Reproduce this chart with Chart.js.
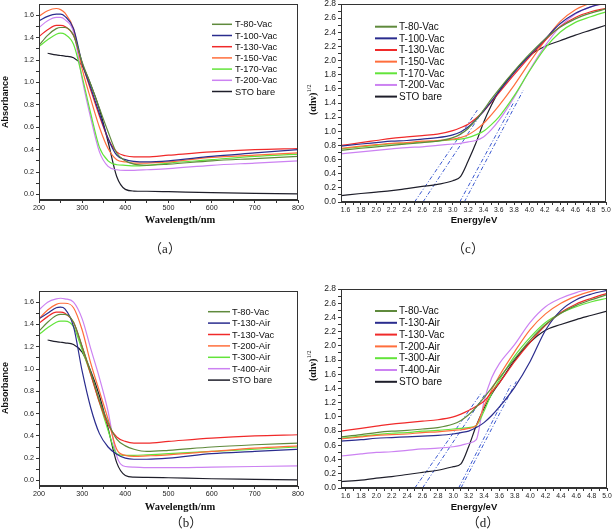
<!DOCTYPE html>
<html>
<head>
<meta charset="utf-8">
<script src="https://cdn.jsdelivr.net/npm/chart.js@4.4.1/dist/chart.umd.min.js"></script>
<style>
  body { margin: 0; background: #fff; width: 614px; height: 531px; position: relative; overflow: hidden; }
  .box { position: absolute; }
  .cap { position: absolute; font-family: "Liberation Serif", "Noto Sans CJK SC"; font-size: 13px; color: #222;
         transform: translate(-50%, -50%); white-space: nowrap; }
</style>
</head>
<body>
<div class="box" id="boxA"><canvas id="chartA"></canvas></div>
<div class="box" id="boxC"><canvas id="chartC"></canvas></div>
<div class="box" id="boxB"><canvas id="chartB"></canvas></div>
<div class="box" id="boxD"><canvas id="chartD"></canvas></div>
<div class="cap" style="left:165px;top:247px">（a）</div>
<div class="cap" style="left:468px;top:247px">（c）</div>
<div class="cap" style="left:186px;top:521px">（b）</div>
<div class="cap" style="left:483px;top:521px">（d）</div>
<script>
// ---- data: absorbance spectra (wavelength, nm) ----
const wl = [200, 220, 240, 250, 260, 280, 300, 320, 340, 360, 380, 400, 420, 450, 500, 600, 700, 800];
const stoAbs = [null, 1.26, 1.245, 1.24, 1.235, 1.22, 1.15, 0.98, 0.76, 0.47, 0.16, 0.045, 0.03, 0.028, 0.024, 0.015, 0.01, 0.005];

// panel (a)
const aT80  = [1.33, 1.42, 1.48, 1.49, 1.49, 1.42, 1.18, 0.98, 0.77, 0.56, 0.37, 0.30, 0.27, 0.26, 0.27, 0.30, 0.32, 0.34];
const aT100 = [1.55, 1.59, 1.61, 1.61, 1.59, 1.48, 1.17, 0.95, 0.72, 0.50, 0.35, 0.31, 0.295, 0.29, 0.30, 0.34, 0.37, 0.40];
const aT130 = [1.41, 1.47, 1.51, 1.51, 1.50, 1.42, 1.17, 0.93, 0.70, 0.50, 0.38, 0.345, 0.335, 0.335, 0.35, 0.38, 0.40, 0.41];
const aT150 = [1.59, 1.64, 1.66, 1.65, 1.62, 1.48, 1.12, 0.85, 0.60, 0.41, 0.31, 0.29, 0.28, 0.28, 0.29, 0.33, 0.35, 0.37];
const aT170 = [1.32, 1.38, 1.43, 1.44, 1.43, 1.34, 1.05, 0.72, 0.42, 0.30, 0.265, 0.26, 0.255, 0.26, 0.28, 0.31, 0.34, 0.36];
const aT200 = [1.49, 1.55, 1.58, 1.58, 1.56, 1.45, 1.03, 0.68, 0.38, 0.25, 0.22, 0.215, 0.215, 0.22, 0.23, 0.26, 0.28, 0.30];

// panel (b)
const bV80  = [1.34, 1.42, 1.48, 1.49, 1.49, 1.42, 1.20, 0.97, 0.72, 0.52, 0.37, 0.31, 0.28, 0.26, 0.27, 0.30, 0.32, 0.335];
const bA130 = [1.45, 1.50, 1.55, 1.555, 1.54, 1.38, 0.98, 0.65, 0.42, 0.30, 0.235, 0.20, 0.19, 0.19, 0.20, 0.24, 0.26, 0.28];
const bV130 = [1.41, 1.47, 1.51, 1.51, 1.50, 1.42, 1.20, 0.95, 0.70, 0.50, 0.39, 0.35, 0.335, 0.335, 0.35, 0.38, 0.40, 0.41];
const bA200 = [1.45, 1.53, 1.58, 1.59, 1.59, 1.55, 1.35, 1.05, 0.80, 0.55, 0.28, 0.225, 0.215, 0.22, 0.23, 0.26, 0.29, 0.31];
const bA300 = [1.31, 1.37, 1.42, 1.43, 1.43, 1.38, 1.17, 0.95, 0.70, 0.45, 0.24, 0.225, 0.225, 0.23, 0.24, 0.26, 0.28, 0.30];
const bA400 = [1.53, 1.60, 1.63, 1.635, 1.63, 1.60, 1.45, 1.18, 0.92, 0.62, 0.22, 0.125, 0.12, 0.115, 0.115, 0.12, 0.125, 0.13];

// ---- data: Tauc plots (energy, eV) ----
const ev = [1.54, 1.8, 2.0, 2.2, 2.4, 2.6, 2.8, 3.0, 3.1, 3.2, 3.3, 3.4, 3.5, 3.6, 3.8, 4.0, 4.2, 4.4, 4.6, 4.8, 5.0];

// panel (c)
const cT80  = [0.73, 0.76, 0.78, 0.80, 0.82, 0.84, 0.86, 0.91, 0.96, 1.04, 1.16, 1.30, 1.45, 1.59, 1.85, 2.09, 2.30, 2.47, 2.59, 2.67, 2.73];
const cT100 = [0.79, 0.82, 0.84, 0.86, 0.87, 0.89, 0.91, 0.95, 0.99, 1.06, 1.16, 1.28, 1.42, 1.56, 1.83, 2.07, 2.30, 2.52, 2.67, 2.76, 2.82];
const cT130 = [0.80, 0.84, 0.87, 0.90, 0.92, 0.94, 0.96, 1.01, 1.05, 1.10, 1.18, 1.28, 1.41, 1.54, 1.80, 2.05, 2.28, 2.48, 2.61, 2.69, 2.74];
const cT150 = [0.76, 0.79, 0.81, 0.83, 0.84, 0.86, 0.87, 0.89, 0.91, 0.95, 1.02, 1.11, 1.23, 1.36, 1.65, 1.97, 2.28, 2.55, 2.72, 2.81, 2.86];
const cT170 = [0.75, 0.78, 0.80, 0.82, 0.83, 0.85, 0.86, 0.88, 0.89, 0.91, 0.95, 1.00, 1.09, 1.20, 1.50, 1.85, 2.17, 2.40, 2.54, 2.62, 2.69];
const cT200 = [0.68, 0.71, 0.73, 0.75, 0.77, 0.78, 0.80, 0.82, 0.83, 0.85, 0.87, 0.92, 1.02, 1.15, 1.48, 1.86, 2.20, 2.48, 2.66, 2.76, 2.81];
const cSTO  = [0.09, 0.12, 0.14, 0.16, 0.19, 0.22, 0.25, 0.30, 0.36, 0.58, 0.83, 1.12, 1.36, 1.56, 1.84, 2.07, 2.20, 2.28, 2.36, 2.43, 2.50];
// tangent lines [x0, y0, x1, y1]
const cFits = [[2.50, 0, 3.32, 1.30], [2.61, 0, 3.40, 1.30], [3.09, 0, 3.80, 1.42], [3.15, 0, 3.92, 1.58]];

// panel (d)
const dV80  = [0.72, 0.75, 0.78, 0.80, 0.81, 0.83, 0.85, 0.90, 0.95, 1.03, 1.14, 1.27, 1.41, 1.55, 1.82, 2.08, 2.30, 2.46, 2.57, 2.65, 2.72];
const dA130 = [0.66, 0.68, 0.70, 0.71, 0.72, 0.73, 0.74, 0.76, 0.78, 0.80, 0.85, 0.92, 1.02, 1.14, 1.42, 1.78, 2.22, 2.50, 2.65, 2.73, 2.78];
const dV130 = [0.80, 0.84, 0.87, 0.90, 0.92, 0.94, 0.96, 1.00, 1.04, 1.09, 1.15, 1.22, 1.35, 1.48, 1.78, 2.05, 2.29, 2.47, 2.59, 2.67, 2.74];
const dA200 = [0.69, 0.72, 0.74, 0.75, 0.76, 0.78, 0.79, 0.81, 0.82, 0.84, 0.88, 1.15, 1.38, 1.58, 1.92, 2.23, 2.45, 2.60, 2.70, 2.77, 2.82];
const dA300 = [0.70, 0.73, 0.75, 0.77, 0.78, 0.80, 0.81, 0.83, 0.84, 0.85, 0.88, 1.08, 1.33, 1.52, 1.86, 2.12, 2.33, 2.46, 2.55, 2.62, 2.67];
const dA400 = [0.45, 0.48, 0.50, 0.51, 0.53, 0.55, 0.56, 0.58, 0.60, 0.63, 0.68, 1.22, 1.55, 1.75, 2.02, 2.33, 2.55, 2.67, 2.75, 2.80, 2.84];
const dSTO  = [0.09, 0.11, 0.14, 0.16, 0.19, 0.22, 0.25, 0.30, 0.34, 0.58, 0.88, 1.12, 1.32, 1.48, 1.80, 2.05, 2.22, 2.30, 2.37, 2.43, 2.49];
const dFits = [[2.50, 0, 3.36, 1.33], [2.60, 0, 3.42, 1.33], [3.07, 0, 3.75, 1.45], [3.10, 0, 3.82, 1.50]];

// tick labels
const wlTicks = [200, 300, 400, 500, 600, 700, 800];
const absTicks = [0.0, 0.2, 0.4, 0.6, 0.8, 1.0, 1.2, 1.4, 1.6];
const evTicks = [1.6, 1.8, 2.0, 2.2, 2.4, 2.6, 2.8, 3.0, 3.2, 3.4, 3.6, 3.8, 4.0, 4.2, 4.4, 4.6, 4.8, 5.0];
const taucTicks = [0.0, 0.2, 0.4, 0.6, 0.8, 1.0, 1.2, 1.4, 1.6, 1.8, 2.0, 2.2, 2.4, 2.6, 2.8];

const OLIVE = '#5f8a3c', NAVY = '#2a2c8e', RED = '#f02a2a', ORANGE = '#ff6e3c',
      GREEN = '#62e43a', VIOLET = '#cc82f2', BLACK = '#1e1e2a', FIT = '#3a58d0';

function series(label, xs, ys, color) {
  return {
    label: label,
    data: xs.map((x, i) => ({ x: x, y: ys[i] })),
    borderColor: color, borderWidth: 1.2, pointRadius: 0, fill: false,
    cubicInterpolationMode: 'monotone'
  };
}
function fits(list) {
  return list.map(f => ({
    label: '',
    data: [{ x: f[0], y: f[1] }, { x: f[2], y: f[3] }],
    borderColor: FIT, borderWidth: 1, borderDash: [4, 2, 1, 2], pointRadius: 0, fill: false
  }));
}
function withMinor(majors) {
  const out = [];
  majors.forEach((v, i) => {
    out.push(v);
    if (i < majors.length - 1) out.push((v + majors[i + 1]) / 2);
  });
  return out;
}

const framePlugin = {
  id: 'frame',
  afterDraw(chart, args, o) {
    const ctx = chart.ctx, ca = chart.chartArea;
    ctx.save();
    ctx.strokeStyle = '#333';
    ctx.lineWidth = 1;
    ctx.strokeRect(Math.round(ca.left) + 0.5, Math.round(ca.top) + 0.5,
                   Math.round(ca.right - ca.left) - 1, Math.round(ca.bottom - ca.top) - 1);
    // legend
    const L = o.legend;
    let row = 0;
    ctx.font = L.font;
    ctx.textBaseline = 'middle';
    ctx.textAlign = 'left';
    chart.data.datasets.forEach(d => {
      if (!d.label) return;
      const y = L.y + row * L.dy - o.oy;
      ctx.strokeStyle = d.borderColor;
      ctx.lineWidth = L.lw;
      ctx.beginPath();
      ctx.moveTo(L.x1 - o.ox, y);
      ctx.lineTo(L.x2 - o.ox, y);
      ctx.stroke();
      ctx.fillStyle = '#111';
      ctx.fillText(d.label, L.tx - o.ox, y + 0.5);
      row++;
    });
    // axis titles
    o.texts.forEach(t => {
      ctx.save();
      ctx.translate(t.x - o.ox, t.y - o.oy);
      if (t.rot) ctx.rotate(t.rot);
      ctx.fillStyle = '#111';
      ctx.textBaseline = 'middle';
      ctx.font = t.font;
      const w1 = ctx.measureText(t.text).width;
      let w2 = 0;
      if (t.sup) { ctx.font = t.supFont; w2 = ctx.measureText(t.sup).width; }
      ctx.font = t.font;
      ctx.textAlign = 'left';
      ctx.fillText(t.text, -(w1 + w2) / 2, 0);
      if (t.sup) {
        ctx.font = t.supFont;
        ctx.fillText(t.sup, -(w1 + w2) / 2 + w1 + 0.5, -4);
      }
      ctx.restore();
    });
    ctx.restore();
  }
};

function panel(id, boxId, p) {
  const box = document.getElementById(boxId);
  box.style.left = p.box.x + 'px';
  box.style.top = p.box.y + 'px';
  box.style.width = p.box.w + 'px';
  box.style.height = p.box.h + 'px';
  const axisStyle = {
    grid: { display: true, drawOnChartArea: false, drawTicks: true, tickLength: 3, color: '#333' },
    border: { display: true, color: '#333' }
  };
  const xT = withMinor(p.xMajor), yT = withMinor(p.yMajor);
  const isMajor = (arr, v) => arr.some(m => Math.abs(m - v) < 1e-6);
  return new Chart(document.getElementById(id), {
    type: 'line',
    data: { datasets: p.datasets },
    options: {
      responsive: true, maintainAspectRatio: false, animation: false,
      layout: { padding: { top: p.area.t - p.box.y, right: p.box.x + p.box.w - p.area.r, left: 0, bottom: 0 } },
      plugins: {
        legend: { display: false },
        tooltip: { enabled: false },
        frame: { legend: p.legend, texts: p.texts, ox: p.box.x, oy: p.box.y }
      },
      scales: {
        x: Object.assign({
          type: 'linear', min: p.xMin, max: p.xMax,
          afterFit: s => { s.height = p.box.y + p.box.h - p.area.b; },
          afterBuildTicks: s => { s.ticks = xT.map(v => ({ value: v })); },
          ticks: {
            autoSkip: false, maxRotation: 0, padding: 1, color: '#222',
            font: { family: 'Liberation Sans', size: p.xFont },
            callback: v => isMajor(p.xMajor, v) ? p.xFmt(v) : ''
          }
        }, axisStyle),
        y: Object.assign({
          type: 'linear', min: p.yMin, max: p.yMax,
          afterFit: s => { s.width = p.area.l - p.box.x; },
          afterBuildTicks: s => { s.ticks = yT.map(v => ({ value: v })); },
          ticks: {
            autoSkip: false, padding: 2, color: '#222',
            font: { family: 'Liberation Sans', size: p.yFont },
            callback: v => isMajor(p.yMajor, v) ? v.toFixed(1) : ''
          }
        }, axisStyle)
      }
    },
    plugins: [framePlugin]
  });
}

const absTitle = y => ({ text: 'Absorbance', x: 6, y: y, rot: -Math.PI / 2, font: 'bold 9px "Liberation Sans"' });
const wlTitle = y => ({ text: 'Wavelength/nm', x: 180, y: y, font: 'bold 10.5px "Liberation Serif"' });
const taucTitle = y => ({ text: '(\u03b1h\u03bd)', sup: '1/2', x: 313, y: y, rot: -Math.PI / 2,
                          font: 'bold 10px "Liberation Serif"', supFont: '6px "Liberation Serif"' });
const evTitle = y => ({ text: 'Energy/eV', x: 474, y: y, font: 'bold 9.5px "Liberation Sans"' });

// (a)
panel('chartA', 'boxA', {
  box: { x: 0, y: -10, w: 307, h: 250 }, area: { l: 39, t: 4, r: 298, b: 200 },
  xMin: 200, xMax: 800, yMin: -0.05, yMax: 1.7, xMajor: wlTicks, yMajor: absTicks,
  xFmt: v => String(v), xFont: 7.2, yFont: 7.2,
  datasets: [
    series('T-80-Vac', wl, aT80, OLIVE), series('T-100-Vac', wl, aT100, NAVY),
    series('T-130-Vac', wl, aT130, RED), series('T-150-Vac', wl, aT150, ORANGE),
    series('T-170-Vac', wl, aT170, GREEN), series('T-200-Vac', wl, aT200, VIOLET),
    series('STO bare', wl, stoAbs, BLACK)
  ],
  legend: { x1: 212, x2: 232, tx: 235, y: 24.3, dy: 11.2, lw: 1.5, font: '9.3px "Liberation Sans"' },
  texts: [absTitle(102), wlTitle(220)]
});

// (c)
panel('chartC', 'boxC', {
  box: { x: 307, y: -10, w: 307, h: 250 }, area: { l: 341, t: 4, r: 606, b: 202 },
  xMin: 1.54, xMax: 5.0, yMin: 0, yMax: 2.8, xMajor: evTicks, yMajor: taucTicks,
  xFmt: v => v.toFixed(1), xFont: 6.8, yFont: 8.5,
  datasets: [
    series('T-80-Vac', ev, cT80, OLIVE), series('T-100-Vac', ev, cT100, NAVY),
    series('T-130-Vac', ev, cT130, RED), series('T-150-Vac', ev, cT150, ORANGE),
    series('T-170-Vac', ev, cT170, GREEN), series('T-200-Vac', ev, cT200, VIOLET),
    series('STO bare', ev, cSTO, BLACK)
  ].concat(fits(cFits)),
  legend: { x1: 375, x2: 397, tx: 399, y: 26.7, dy: 11.65, lw: 2, font: '10px "Liberation Sans"' },
  texts: [taucTitle(100), evTitle(220)]
});

// (b)
panel('chartB', 'boxB', {
  box: { x: 0, y: 255, w: 307, h: 276 }, area: { l: 39, t: 291, r: 298, b: 486 },
  xMin: 200, xMax: 800, yMin: -0.05, yMax: 1.7, xMajor: wlTicks, yMajor: absTicks,
  xFmt: v => String(v), xFont: 7.2, yFont: 7.2,
  datasets: [
    series('T-80-Vac', wl, bV80, OLIVE), series('T-130-Air', wl, bA130, NAVY),
    series('T-130-Vac', wl, bV130, RED), series('T-200-Air', wl, bA200, ORANGE),
    series('T-300-Air', wl, bA300, GREEN), series('T-400-Air', wl, bA400, VIOLET),
    series('STO bare', wl, stoAbs, BLACK)
  ],
  legend: { x1: 208, x2: 230, tx: 232, y: 311.7, dy: 11.4, lw: 1.5, font: '9.3px "Liberation Sans"' },
  texts: [absTitle(388), wlTitle(507)]
});

// (d)
panel('chartD', 'boxD', {
  box: { x: 307, y: 255, w: 307, h: 276 }, area: { l: 341, t: 289, r: 607, b: 488 },
  xMin: 1.54, xMax: 5.0, yMin: 0, yMax: 2.8, xMajor: evTicks, yMajor: taucTicks,
  xFmt: v => v.toFixed(1), xFont: 6.8, yFont: 8.5,
  datasets: [
    series('T-80-Vac', ev, dV80, OLIVE), series('T-130-Air', ev, dA130, NAVY),
    series('T-130-Vac', ev, dV130, RED), series('T-200-Air', ev, dA200, ORANGE),
    series('T-300-Air', ev, dA300, GREEN), series('T-400-Air', ev, dA400, VIOLET),
    series('STO bare', ev, dSTO, BLACK)
  ].concat(fits(dFits)),
  legend: { x1: 375, x2: 397, tx: 399, y: 311, dy: 11.8, lw: 2, font: '10px "Liberation Sans"' },
  texts: [taucTitle(366), evTitle(507)]
});
</script>
</body>
</html>
